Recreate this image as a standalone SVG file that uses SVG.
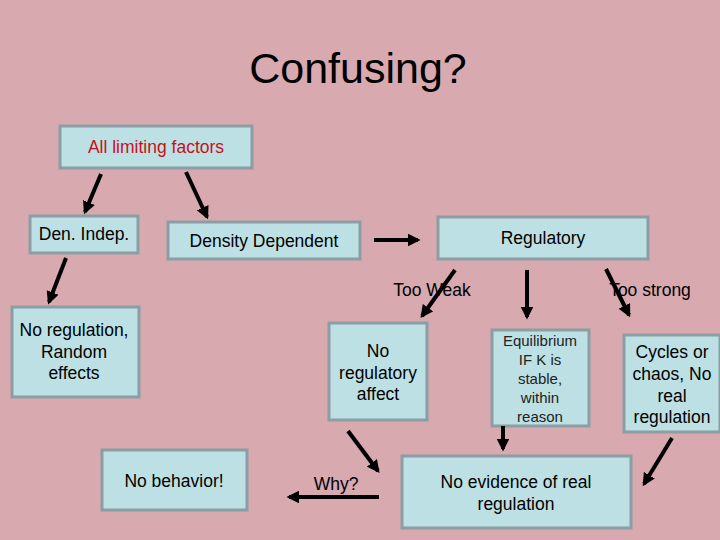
<svg xmlns="http://www.w3.org/2000/svg" width="720" height="540" viewBox="0 0 720 540">
<defs>
<marker id="ah" viewBox="0 0 10 10" refX="8" refY="5" markerWidth="3.2" markerHeight="3.2" orient="auto"><path d="M0,0 L10,5 L0,10 z" fill="#000"/></marker>
<style>
.b{fill:#bde0e4;stroke:#8a9ea3;stroke-width:3}
text{font-family:"Liberation Sans",Arial,sans-serif;font-size:17.5px;fill:#000;text-anchor:middle}
.s{font-size:15px;fill:#222}
.c line{stroke:#000;stroke-width:4;marker-end:url(#ah)}
</style>
</defs>
<rect width="720" height="540" fill="#d9a9b0"/>
<text x="358" y="83" style="font-size:43px">Confusing?</text>
<g id="all"><rect class="b" x="60" y="126" width="192" height="42"/><text x="156" y="153" style="fill:#c8101a">All limiting factors</text></g>
<g id="denindep"><rect class="b" x="30" y="216" width="108" height="37"/><text x="84" y="240">Den. Indep.</text></g>
<g id="dendep"><rect class="b" x="168" y="222" width="192" height="37"/><text x="264" y="247">Density Dependent</text></g>
<g id="reg"><rect class="b" x="438" y="217" width="210" height="42"/><text x="543" y="244">Regulatory</text></g>
<g id="noreg"><rect class="b" x="12" y="307" width="127" height="90"/><text x="74" y="336">No regulation,</text><text x="74" y="358">Random</text><text x="74" y="379">effects</text></g>
<g id="noaffect"><rect class="b" x="329" y="323" width="98" height="97"/><text x="378" y="357">No</text><text x="378" y="379">regulatory</text><text x="378" y="400">affect</text></g>
<g id="equil"><rect class="b" x="492" y="330" width="97" height="96"/><text class="s" x="540" y="346">Equilibrium</text><text class="s" x="540" y="365">IF K is</text><text class="s" x="540" y="384">stable,</text><text class="s" x="540" y="403">within</text><text class="s" x="540" y="422">reason</text></g>
<g id="cycles"><rect class="b" x="624" y="335" width="96" height="97"/><text x="672" y="358">Cycles or</text><text x="672" y="380">chaos, No</text><text x="672" y="402">real</text><text x="672" y="423">regulation</text></g>
<g id="nobeh"><rect class="b" x="102" y="450" width="145" height="60"/><text x="174" y="487">No behavior!</text></g>
<g id="noev"><rect class="b" x="402" y="456" width="229" height="72"/><text x="516" y="488">No evidence of real</text><text x="516" y="510">regulation</text></g>
<text x="336" y="490">Why?</text>
<g class="c">
<line x1="101" y1="174" x2="85" y2="212"/>
<line x1="186" y1="172" x2="207" y2="217"/>
<line x1="66" y1="258" x2="49" y2="302"/>
<line x1="374" y1="240" x2="418" y2="240"/>
<line x1="455" y1="270" x2="422" y2="316"/>
<line x1="527" y1="270" x2="527" y2="317"/>
<line x1="606" y1="269" x2="629" y2="315"/>
<line x1="348" y1="431" x2="378" y2="471"/>
<line x1="503" y1="426" x2="503" y2="449"/>
<line x1="672" y1="438" x2="644" y2="484"/>
<line x1="379" y1="497" x2="289" y2="497"/>
</g>
<text x="432" y="296">Too Weak</text>
<text x="650" y="296">Too strong</text>
</svg>
